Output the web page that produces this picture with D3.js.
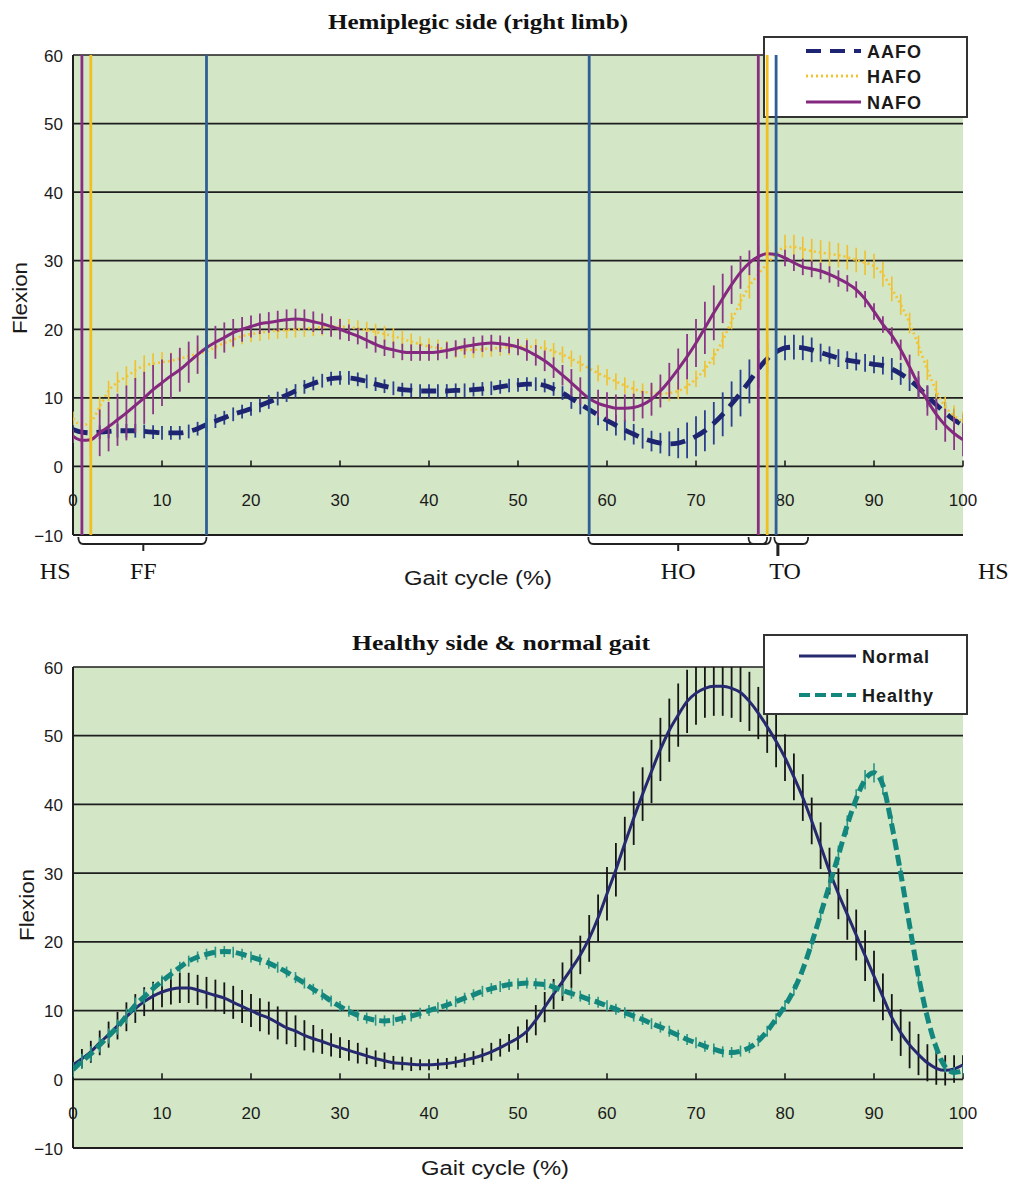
<!DOCTYPE html>
<html>
<head>
<meta charset="utf-8">
<script src="https://cdn.jsdelivr.net/npm/d3@7"></script>
<style>
  body { margin: 0; background: #fff; }
  svg { display: block; }
</style>
</head>
<body>
<svg id="chart" width="1012" height="1185"></svg>
<script>
// gait cycle positions, one sample per percent
const gaitPct = d3.range(0, 101);

// ---- hemiplegic side (right limb) ----
const aafo = [5.4, 5.0, 4.9, 5.0, 5.1, 5.2, 5.2, 5.2, 5.1, 5.0,
  4.9, 4.9, 4.9, 5.1, 5.5, 6.1, 6.6, 7.1, 7.6, 8.0,
  8.4, 8.9, 9.4, 9.9, 10.4, 11.0, 11.6, 12.1, 12.5, 12.8,
  12.9, 12.9, 12.7, 12.4, 12.0, 11.7, 11.4, 11.2, 11.1, 11.0,
  11.0, 11.0, 11.0, 11.1, 11.1, 11.2, 11.3, 11.4, 11.6, 11.8,
  11.9, 12.0, 12.0, 11.8, 11.3, 10.7, 9.9, 9.1, 8.3, 7.5,
  6.7, 6.0, 5.3, 4.7, 4.1, 3.7, 3.4, 3.3, 3.4, 3.8,
  4.4, 5.2, 6.3, 7.6, 9.1, 10.7, 12.4, 14.2, 15.7, 16.7,
  17.3, 17.4, 17.3, 17.0, 16.6, 16.2, 15.8, 15.5, 15.3, 15.1,
  14.9, 14.7, 14.2, 13.5, 12.6, 11.5, 10.2, 9.0, 7.8, 6.8,
  6.0];
const aafoSd = [1.0, 1.0, 1.0, 1.0, 1.0, 1.0, 1.0, 1.0, 1.0, 1.0,
  1.0, 1.0, 1.0, 1.0, 1.0, 1.0, 1.0, 1.0, 1.0, 1.0,
  1.0, 1.0, 1.0, 1.0, 1.0, 1.0, 1.0, 1.0, 1.0, 1.0,
  1.0, 1.0, 1.0, 1.0, 1.0, 1.0, 1.0, 1.0, 1.0, 1.0,
  1.0, 1.0, 1.0, 1.0, 1.0, 1.0, 1.0, 1.0, 1.0, 1.0,
  1.0, 1.0, 1.0, 1.0, 1.0, 1.0, 1.5, 1.5, 1.5, 1.5,
  1.5, 1.5, 1.5, 1.5, 1.5, 1.5, 1.5, 1.8, 2.2, 2.6,
  2.9, 3.0, 3.1, 3.2, 3.3, 3.4, 3.2, 2.8, 2.3, 2.0,
  1.8, 1.8, 1.8, 1.8, 1.3, 1.3, 1.3, 1.3, 1.3, 1.3,
  1.3, 1.3, 1.6, 1.6, 1.6, 1.6, 1.6, 1.6, 1.6, 1.6,
  1.6];
const hafo = [7.0, 6.0, 6.5, 8.7, 11.0, 12.3, 13.1, 14.0, 14.7, 15.0,
  15.2, 15.4, 15.7, 16.1, 16.4, 16.8, 17.4, 18.0, 18.5, 19.0,
  19.3, 19.5, 19.7, 19.8, 19.9, 20.0, 20.1, 20.2, 20.3, 20.4,
  20.4, 20.3, 20.1, 19.9, 19.6, 19.3, 19.0, 18.6, 18.2, 17.8,
  17.5, 17.3, 17.1, 17.0, 17.0, 17.0, 17.1, 17.2, 17.3, 17.4,
  17.5, 17.5, 17.4, 17.2, 16.8, 16.3, 15.7, 15.0, 14.3, 13.6,
  13.0, 12.4, 11.8, 11.3, 10.9, 10.7, 10.6, 10.7, 11.0, 11.7,
  12.8, 14.2, 16.0, 18.4, 21.2, 24.0, 26.3, 28.0, 29.6, 31.0,
  32.0, 32.0, 31.7, 31.4, 31.2, 31.0, 30.8, 30.5, 30.1, 29.7,
  29.2, 28.0, 25.9, 23.6, 20.9, 17.6, 14.1, 11.0, 8.7, 7.4,
  6.5];
const hafoSd = [1.0, 1.0, 1.0, 1.5, 1.5, 1.5, 1.5, 1.5, 1.5, 1.5,
  1.5, 1.2, 1.2, 1.2, 1.2, 1.2, 1.2, 1.2, 1.2, 1.2,
  1.2, 1.2, 1.2, 1.2, 1.2, 1.2, 1.2, 1.2, 1.2, 1.2,
  1.2, 1.2, 1.2, 1.2, 1.2, 1.2, 1.2, 1.2, 1.2, 1.2,
  1.2, 1.2, 1.2, 1.2, 1.2, 1.2, 1.2, 1.2, 1.2, 1.2,
  1.2, 1.2, 1.2, 1.2, 1.2, 1.2, 1.2, 1.2, 1.2, 1.2,
  1.2, 1.2, 1.2, 1.2, 1.2, 1.2, 1.2, 1.2, 1.2, 1.2,
  1.2, 1.2, 1.2, 1.2, 1.2, 1.2, 1.8, 1.8, 1.8, 1.8,
  1.8, 1.8, 1.8, 1.8, 1.8, 1.8, 1.8, 1.8, 1.8, 1.8,
  1.8, 1.8, 1.8, 1.5, 1.5, 1.5, 1.5, 1.5, 1.5, 1.5,
  1.5];
const nafo = [4.4, 3.8, 3.9, 4.9, 5.8, 6.8, 7.8, 8.9, 10.0, 11.2,
  12.2, 13.2, 14.1, 15.2, 16.3, 17.3, 18.1, 18.8, 19.5, 20.0,
  20.4, 20.8, 21.0, 21.2, 21.4, 21.5, 21.4, 21.1, 20.8, 20.4,
  20.0, 19.5, 19.0, 18.4, 17.8, 17.3, 17.0, 16.7, 16.6, 16.6,
  16.6, 16.7, 16.9, 17.2, 17.5, 17.7, 17.9, 18.0, 17.9, 17.7,
  17.4, 16.9, 16.2, 15.4, 14.4, 13.3, 12.2, 11.0, 9.9, 9.2,
  8.8, 8.5, 8.5, 8.6, 9.0, 9.8, 11.0, 12.5, 14.2, 16.0,
  18.0, 20.2, 22.4, 24.5, 26.5, 28.3, 29.7, 30.6, 31.0, 30.9,
  30.4, 29.7, 29.1, 28.8, 28.5, 28.0, 27.4, 26.7, 25.8, 24.4,
  22.6, 20.7, 19.1, 17.0, 14.5, 11.9, 9.6, 7.6, 6.0, 4.8,
  3.9];
const nafoSd = [1.0, 1.5, 2.5, 3.4, 3.6, 3.8, 4.0, 4.0, 3.8, 3.6,
  3.4, 3.3, 3.2, 3.0, 2.8, 2.7, 2.4, 2.2, 2.0, 1.8,
  1.6, 1.5, 1.5, 1.5, 1.5, 1.5, 1.5, 1.5, 1.5, 1.5,
  1.5, 1.2, 1.2, 1.2, 1.2, 1.2, 1.2, 1.2, 1.2, 1.2,
  1.2, 1.2, 1.2, 1.2, 1.2, 1.2, 1.2, 1.2, 1.2, 1.2,
  1.2, 1.5, 1.5, 1.5, 1.5, 1.5, 2.0, 2.0, 2.0, 2.0,
  2.0, 2.0, 2.0, 2.0, 2.0, 2.4, 2.4, 2.6, 3.0, 3.3,
  3.5, 3.8, 4.0, 3.6, 2.8, 2.4, 1.8, 1.5, 1.2, 1.2,
  1.2, 1.2, 1.2, 1.2, 1.2, 1.2, 1.2, 1.2, 1.2, 1.2,
  1.2, 1.2, 1.2, 1.5, 1.8, 2.0, 2.2, 2.3, 2.4, 2.4,
  2.4];

// gait event markers (% of cycle) and which condition they belong to
const eventPct = [1, 2, 15, 58, 77, 78, 79];
const eventKey = ["NAFO", "HAFO", "AAFO", "AAFO", "NAFO", "HAFO", "AAFO"];

// phase labels and the brackets under the axis (% of cycle)
const phaseLabels = ["HS", "FF", "HO", "TO", "HS"];
const phaseLabelPct = [-2, 7.9, 68, 80, 103.4];
const bracketFrom = [0.6, 57.9, 75.9, 78.8];
const bracketTo = [15, 78, 78.4, 82.6];
const bracketTick = [7.9, 68, null, null];

// ---- healthy side & normal gait ----
const normal = [2.1, 3.0, 4.0, 5.3, 6.5, 7.8, 9.1, 10.3, 11.3, 12.1,
  12.7, 13.1, 13.3, 13.3, 13.0, 12.6, 12.2, 11.8, 11.2, 10.6,
  10.0, 9.4, 8.9, 8.2, 7.5, 7.0, 6.4, 5.9, 5.5, 5.0,
  4.6, 4.2, 3.8, 3.4, 3.0, 2.7, 2.4, 2.3, 2.2, 2.1,
  2.1, 2.2, 2.3, 2.5, 2.8, 3.1, 3.5, 4.0, 4.6, 5.3,
  6.0, 7.0, 8.6, 10.5, 12.4, 14.2, 16.1, 18.1, 20.5, 23.5,
  27.0, 30.5, 34.3, 38.0, 41.5, 44.8, 48.0, 50.8, 53.0, 55.0,
  56.2, 56.9, 57.2, 57.2, 56.9, 56.3, 55.0, 53.3, 51.3, 49.2,
  46.8, 44.0, 41.0, 37.6, 34.0, 30.3, 27.0, 24.0, 21.0, 18.0,
  15.0, 12.0, 9.0, 6.8, 5.0, 3.6, 2.4, 1.6, 1.3, 1.5,
  2.1];
const normalSd = [1.2, 1.4, 1.6, 1.8, 1.9, 2.0, 2.1, 2.1, 2.1, 2.1,
  2.2, 2.2, 2.2, 2.2, 2.2, 2.3, 2.3, 2.3, 2.4, 2.4,
  2.4, 2.4, 2.4, 2.4, 2.4, 2.3, 2.2, 2.0, 1.8, 1.7,
  1.5, 1.5, 1.5, 1.2, 1.2, 1.2, 1.0, 1.0, 1.0, 0.8,
  0.8, 0.8, 0.8, 0.8, 1.0, 1.0, 1.0, 1.3, 1.3, 1.3,
  1.7, 1.7, 2.2, 2.2, 2.2, 2.8, 2.8, 2.8, 3.4, 3.4,
  3.9, 3.9, 3.9, 3.9, 3.9, 4.6, 4.6, 4.6, 4.6, 4.6,
  4.6, 4.3, 4.3, 4.3, 4.3, 4.3, 4.3, 3.8, 3.8, 3.8,
  3.4, 3.4, 3.4, 3.4, 3.4, 3.4, 3.7, 3.7, 3.7, 3.7,
  3.7, 3.4, 3.4, 3.4, 3.4, 3.0, 2.7, 2.4, 2.2, 2.0,
  1.4];
const healthy = [1.4, 2.6, 3.7, 5.0, 6.3, 7.6, 9.2, 10.8, 12.0, 13.2,
  14.3, 15.3, 16.3, 17.2, 17.8, 18.2, 18.5, 18.6, 18.5, 18.2,
  17.8, 17.4, 16.9, 16.3, 15.6, 14.8, 14.0, 13.1, 12.3, 11.4,
  10.6, 9.9, 9.3, 8.9, 8.6, 8.5, 8.6, 8.9, 9.2, 9.6,
  10.0, 10.4, 10.8, 11.3, 11.8, 12.3, 12.8, 13.2, 13.5, 13.8,
  13.9, 14.0, 13.9, 13.8, 13.4, 12.9, 12.5, 12.1, 11.6, 11.2,
  10.7, 10.2, 9.7, 9.2, 8.7, 8.1, 7.6, 7.0, 6.4, 5.8,
  5.3, 4.8, 4.4, 4.0, 3.9, 4.1, 4.6, 5.6, 7.0, 8.8,
  10.7, 13.0, 16.0, 19.8, 24.0, 28.3, 32.6, 37.0, 40.8, 43.6,
  44.6, 42.8, 37.0, 30.0, 22.4, 15.0, 9.0, 4.6, 1.8, 1.0,
  1.2];
const healthySd = [1.1, 1.1, 1.1, 1.1, 1.1, 1.1, 1.1, 1.1, 1.1, 0.8,
  0.8, 0.8, 0.8, 0.8, 0.8, 0.8, 0.8, 0.8, 0.8, 0.8,
  0.8, 0.8, 0.8, 0.8, 0.8, 0.8, 0.8, 0.8, 0.8, 0.8,
  0.8, 0.8, 0.8, 0.8, 0.8, 0.8, 0.8, 0.8, 0.8, 0.8,
  0.8, 0.8, 0.8, 0.8, 0.8, 0.8, 0.8, 0.8, 0.8, 0.8,
  0.8, 0.8, 0.8, 0.8, 0.8, 0.8, 0.8, 0.8, 0.8, 0.8,
  0.8, 0.8, 0.8, 0.8, 0.8, 0.8, 0.8, 0.8, 0.8, 0.8,
  0.8, 0.8, 0.8, 0.8, 0.8, 0.8, 0.8, 0.8, 0.8, 0.8,
  0.8, 0.8, 0.8, 0.8, 0.8, 0.8, 1.4, 1.4, 1.4, 1.4,
  1.4, 1.4, 1.4, 0.8, 0.8, 0.8, 0.8, 0.8, 0.8, 0.8,
  0.8];

const yTicks = [60, 50, 40, 30, 20, 10, 0, -10];
const xTicks = [0, 10, 20, 30, 40, 50, 60, 70, 80, 90, 100];

// colours / strokes
const style = {
  AAFO:    { color: "#1d2472", dash: "15,9", width: 4.8, bar: "#2a3f8f", barW: 1.8 },
  HAFO:    { color: "#f4c430", dash: "2,3", width: 2.6, bar: "#f0c030", barW: 1.6 },
  NAFO:    { color: "#85287f", dash: null, width: 3, bar: "#8c3688", barW: 1.8 },
  Normal:  { color: "#26296f", dash: null, width: 3, bar: "#151515", barW: 1.8 },
  Healthy: { color: "#13867e", dash: "11,5", width: 5, bar: "#279687", barW: 1.6 }
};
const eventColor = { NAFO: "#8a2c82", HAFO: "#f2be22", AAFO: "#2f5f96" };

const svg = d3.select("#chart");
const sans = "'Liberation Sans', Arial, sans-serif";
const serif = "'Liberation Serif', 'Times New Roman', serif";

function drawPanel(p) {
  const x = d3.scaleLinear().domain([0, 100]).range([73, 963]);
  const y = d3.scaleLinear().domain([-10, 60]).range([p.bottom, p.top]);
  const g = svg.append("g");

  g.append("clipPath").attr("id", "clip-" + p.id)
    .append("rect")
    .attr("x", x(0)).attr("y", y(60))
    .attr("width", x(100) - x(0)).attr("height", y(-10) - y(60));

  g.append("rect")
    .attr("x", x(0)).attr("y", y(60))
    .attr("width", x(100) - x(0)).attr("height", y(-10) - y(60))
    .attr("fill", "#d3e6c6");

  // horizontal grid lines
  g.append("g").selectAll("line")
    .data(yTicks.filter(v => v >= 0))
    .join("line")
    .attr("x1", x(0)).attr("x2", x(100))
    .attr("y1", d => y(d)).attr("y2", d => y(d))
    .attr("stroke", "#1e1e1e").attr("stroke-width", 1.7);

  // frame: left and bottom
  g.append("line").attr("x1", x(0)).attr("x2", x(0)).attr("y1", y(60)).attr("y2", y(-10))
    .attr("stroke", "#1e1e1e").attr("stroke-width", 2);
  g.append("line").attr("x1", x(0)).attr("x2", x(100)).attr("y1", y(-10)).attr("y2", y(-10))
    .attr("stroke", "#1e1e1e").attr("stroke-width", 2);

  // x ticks on zero line
  g.append("g").selectAll("line")
    .data(xTicks.slice(1))
    .join("line")
    .attr("x1", d => x(d)).attr("x2", d => x(d))
    .attr("y1", y(0)).attr("y2", y(0) - 6)
    .attr("stroke", "#1e1e1e").attr("stroke-width", 1.6);

  // tick labels
  g.append("g").selectAll("text")
    .data(yTicks)
    .join("text")
    .attr("x", 63).attr("y", d => y(d) + 6.5)
    .attr("text-anchor", "end")
    .attr("font-family", sans).attr("font-size", 17).attr("fill", "#1a1a1a")
    .text(d => d < 0 ? "\u2212" + Math.abs(d) : d);

  g.append("g").selectAll("text")
    .data(xTicks)
    .join("text")
    .attr("x", d => x(d)).attr("y", y(0) + 40)
    .attr("text-anchor", "middle")
    .attr("font-family", sans).attr("font-size", 17).attr("fill", "#1a1a1a")
    .text(d => d);

  // series: error bars then mean curve
  const plot = g.append("g").attr("clip-path", "url(#clip-" + p.id + ")");
  p.series.forEach(s => {
    const st = style[s.name];
    plot.append("g").selectAll("line")
      .data(gaitPct)
      .join("line")
      .attr("x1", d => x(d)).attr("x2", d => x(d))
      .attr("y1", (d, i) => y(s.values[i] - s.sd[i]))
      .attr("y2", (d, i) => y(s.values[i] + s.sd[i]))
      .attr("stroke", st.bar).attr("stroke-width", st.barW);

    const line = d3.line()
      .x((v, i) => x(gaitPct[i]))
      .y(v => y(v))
      .curve(d3.curveMonotoneX);

    plot.append("path")
      .datum(s.values)
      .attr("d", line)
      .attr("fill", "none")
      .attr("stroke", st.color)
      .attr("stroke-width", st.width)
      .attr("stroke-dasharray", st.dash);
  });

  // titles
  g.append("text")
    .attr("x", p.titleX).attr("y", p.titleY)
    .attr("text-anchor", "middle")
    .attr("font-family", serif).attr("font-weight", "bold").attr("font-size", 21)
    .attr("textLength", p.titleLen).attr("lengthAdjust", "spacingAndGlyphs")
    .attr("fill", "#111")
    .text(p.title);

  g.append("text")
    .attr("transform", "translate(" + p.yTitleX + "," + p.yTitleY + ") rotate(-90)")
    .attr("text-anchor", "middle")
    .attr("font-family", sans).attr("font-size", 20).attr("fill", "#1a1a1a")
    .attr("textLength", 72).attr("lengthAdjust", "spacingAndGlyphs")
    .text("Flexion");

  g.append("text")
    .attr("x", p.xTitleX).attr("y", p.xTitleY)
    .attr("text-anchor", "middle")
    .attr("font-family", sans).attr("font-size", 20).attr("fill", "#1a1a1a")
    .attr("textLength", 148).attr("lengthAdjust", "spacingAndGlyphs")
    .text("Gait cycle (%)");

  // legend
  const lg = g.append("g");
  lg.append("rect")
    .attr("x", p.legend.x).attr("y", p.legend.y)
    .attr("width", p.legend.w).attr("height", p.legend.h)
    .attr("fill", "#fff").attr("stroke", "#333").attr("stroke-width", 2);
  p.legend.items.forEach((name, i) => {
    const st = style[name];
    const ly = p.legend.rowY[i];
    lg.append("line")
      .attr("x1", p.legend.lineX[0]).attr("x2", p.legend.lineX[1])
      .attr("y1", ly).attr("y2", ly)
      .attr("stroke", st.color)
      .attr("stroke-width", name === "AAFO" || name === "Healthy" ? 4 : 2.8)
      .attr("stroke-dasharray", st.dash);
    lg.append("text")
      .attr("x", p.legend.textX).attr("y", ly + 6.5)
      .attr("font-family", sans).attr("font-weight", "bold").attr("font-size", 18)
      .attr("letter-spacing", 1).attr("fill", "#1a1a1a")
      .text(name);
  });

  return { g, x, y };
}

// ---------- top panel ----------
const topPanel = drawPanel({
  id: "top", top: 55, bottom: 535,
  title: "Hemiplegic side (right limb)", titleX: 478, titleY: 29, titleLen: 300,
  yTitleX: 27, yTitleY: 298, xTitleX: 478, xTitleY: 585,
  series: [
    { name: "AAFO", values: aafo, sd: aafoSd },
    { name: "HAFO", values: hafo, sd: hafoSd },
    { name: "NAFO", values: nafo, sd: nafoSd }
  ],
  legend: { x: 764, y: 37, w: 203, h: 80, items: ["AAFO", "HAFO", "NAFO"],
            rowY: [51, 76, 102], lineX: [806, 861], textX: 867 }
});

// gait event lines drawn over everything
topPanel.g.append("g").selectAll("line")
  .data(eventPct)
  .join("line")
  .attr("x1", d => topPanel.x(d)).attr("x2", d => topPanel.x(d))
  .attr("y1", topPanel.y(60)).attr("y2", topPanel.y(-10))
  .attr("stroke", (d, i) => eventColor[eventKey[i]])
  .attr("stroke-width", 2.8);

// phase brackets
const by = topPanel.y(-10);
bracketFrom.forEach((a, i) => {
  const x0 = topPanel.x(a), x1 = topPanel.x(bracketTo[i]);
  topPanel.g.append("path")
    .attr("d", `M${x0},${by + 2} Q${x0},${by + 9} ${x0 + 5},${by + 9} L${x1 - 5},${by + 9} Q${x1},${by + 9} ${x1},${by + 2}`)
    .attr("fill", "none").attr("stroke", "#222").attr("stroke-width", 1.8);
  if (bracketTick[i] !== null) {
    topPanel.g.append("line")
      .attr("x1", topPanel.x(bracketTick[i])).attr("x2", topPanel.x(bracketTick[i]))
      .attr("y1", by + 9).attr("y2", by + 16)
      .attr("stroke", "#222").attr("stroke-width", 2);
  }
});
// TO marker between the two small brackets
topPanel.g.append("line")
  .attr("x1", topPanel.x(79.2)).attr("x2", topPanel.x(79.2))
  .attr("y1", by + 9).attr("y2", by + 21)
  .attr("stroke", "#222").attr("stroke-width", 3);

topPanel.g.append("g").selectAll("text")
  .data(phaseLabels)
  .join("text")
  .attr("x", (d, i) => topPanel.x(phaseLabelPct[i])).attr("y", 579)
  .attr("text-anchor", "middle")
  .attr("font-family", serif).attr("font-size", 24).attr("fill", "#111")
  .text(d => d);

// ---------- bottom panel ----------
drawPanel({
  id: "bottom", top: 667, bottom: 1148,
  title: "Healthy  side & normal gait", titleX: 501, titleY: 650, titleLen: 298,
  yTitleX: 34, yTitleY: 905, xTitleX: 495, xTitleY: 1175,
  series: [
    { name: "Normal", values: normal, sd: normalSd },
    { name: "Healthy", values: healthy, sd: healthySd }
  ],
  legend: { x: 764, y: 635, w: 203, h: 79, items: ["Normal", "Healthy"],
            rowY: [656, 695], lineX: [799, 856], textX: 862 }
});
</script>
</body>
</html>
